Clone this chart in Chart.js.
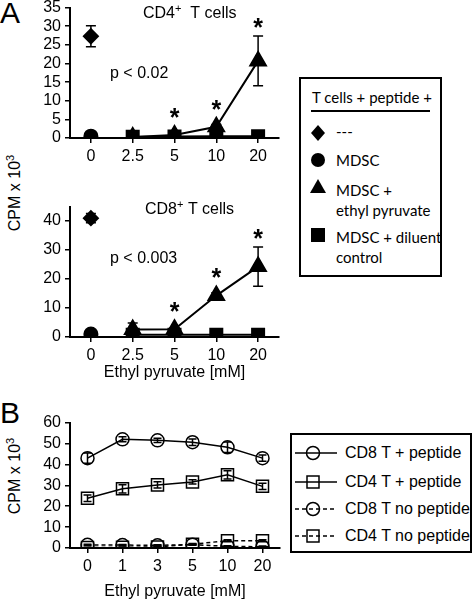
<!DOCTYPE html>
<html><head><meta charset="utf-8">
<script src="https://cdn.jsdelivr.net/npm/chart.js@4/dist/chart.umd.min.js"></script>
<style>
body{margin:0;width:474px;height:600px;position:relative;background:#fff;overflow:hidden;font-family:"Liberation Sans",Arial,sans-serif;color:#000}
.abs{position:absolute;white-space:nowrap}
canvas{position:absolute}
.lgA{font-family:Lato,"Open Sans",sans-serif;font-size:15px;position:absolute;white-space:nowrap;line-height:20px}
.lgB{font-size:16px;position:absolute;white-space:nowrap;line-height:18px}
.ytitle{position:absolute;width:140px;height:20px;line-height:20px;text-align:center;font-size:16px;transform:rotate(-90deg);white-space:nowrap}
</style></head><body>
<div class="abs" style="left:0;top:-4px;font-size:30px">A</div>
<div class="abs" style="left:0;top:396px;font-size:30px">B</div>
<canvas id="c1" width="260" height="176" style="left:30px;top:-6px"></canvas>
<canvas id="c2" width="260" height="200" style="left:30px;top:193px"></canvas>
<canvas id="c3" width="260" height="191" style="left:30px;top:409px"></canvas>
<div class="ytitle" style="left:-55px;top:183px">CPM x 10<span style="font-size:11px;position:relative;top:-6px">3</span></div>
<div class="ytitle" style="left:-55px;top:466px">CPM x 10<span style="font-size:11px;position:relative;top:-6px">3</span></div>

<div class="abs" style="left:299px;top:77px;width:139px;height:196px;border:2px solid #000"></div>
<div class="lgA" style="left:312px;top:87px">T cells + peptide +</div>
<div class="abs" style="left:311px;top:110px;width:119px;height:2px;background:#000"></div>
<svg class="abs" style="left:299px;top:77px" width="40" height="200">
 <polygon points="19,48 26,56 19,64 12,56" fill="#000"/>
 <circle cx="19" cy="83" r="7" fill="#000"/>
 <polygon points="19,102 27,116 11,116" fill="#000"/>
 <rect x="12" y="151" width="14" height="14" fill="#000"/>
</svg>
<div class="lgA" style="left:336px;top:121px">---</div>
<div class="lgA" style="left:336px;top:150px">MDSC</div>
<div class="lgA" style="left:336px;top:180px">MDSC +</div>
<div class="lgA" style="left:336px;top:200px">ethyl pyruvate</div>
<div class="lgA" style="left:336px;top:227px">MDSC + diluent</div>
<div class="lgA" style="left:336px;top:247px">control</div>

<div class="abs" style="left:290px;top:433px;width:178px;height:116px;border:2px solid #000"></div>
<svg class="abs" style="left:290px;top:433px" width="60" height="120">
 <g stroke="#000" stroke-width="1.5" fill="none">
  <line x1="5" y1="20" x2="47" y2="20"/><circle cx="23" cy="20" r="6.5"/>
  <line x1="5" y1="49" x2="47" y2="49"/><rect x="17" y="43" width="12" height="12"/>
  <line x1="5" y1="76" x2="47" y2="76" stroke-dasharray="4,3"/><circle cx="23" cy="76" r="6.5"/>
  <line x1="5" y1="103" x2="47" y2="103" stroke-dasharray="4,3"/><rect x="17" y="97" width="12" height="12"/>
 </g>
</svg>
<div class="lgB" style="left:345px;top:444px">CD8 T + peptide</div>
<div class="lgB" style="left:345px;top:473px">CD4 T + peptide</div>
<div class="lgB" style="left:345px;top:500px">CD8 T no peptide</div>
<div class="lgB" style="left:345px;top:527px">CD4 T no peptide</div>

<script>
// ---------- data ----------
const doseA = ['0', '2.5', '5', '10', '20'];
const yTicksCD4 = [0, 5, 10, 15, 20, 25, 30, 35];
const cd4Alone    = [27.3, null, null, null, null];
const cd4AloneErr = [2.8, null, null, null, null];
const cd4Mdsc     = [0.5, null, null, null, null];
const cd4MdscErr  = [0.3, null, null, null, null];
const cd4Ep       = [null, 0.3, 0.8, 3.0, 20.7];
const cd4EpErr    = [null, 0.3, 0.4, 0.6, 6.7];
const cd4Dil      = [null, 0.3, 0.4, 0.5, 0.5];
const cd4DilErr   = [null, 0.2, 0.2, 0.2, 0.2];
const cd4Sig      = ['', '', '*', '*', '*'];

const yTicksCD8 = [0, 10, 20, 30, 40];
const cd8Alone    = [41.0, null, null, null, null];
const cd8AloneErr = [1.6, null, null, null, null];
const cd8Mdsc     = [1.0, null, null, null, null];
const cd8MdscErr  = [0.3, null, null, null, null];
const cd8Ep       = [null, 2.6, 2.7, 14.3, 24.3];
const cd8EpErr    = [null, 2.2, 0.5, 1.0, 6.8];
const cd8Dil      = [null, 0.8, 0.8, 0.8, 0.8];
const cd8DilErr   = [null, 0.3, 0.3, 0.3, 0.3];
const cd8Sig      = ['', '', '*', '*', '*'];

const doseB = ['0', '1', '3', '5', '10', '20'];
const yTicksB = [0, 10, 20, 30, 40, 50, 60];
const cd8Pep       = [43.0, 52.0, 51.5, 50.6, 48.2, 43.0];
const cd8PepErr    = [2.5, 1.2, 1.0, 1.5, 2.5, 1.5];
const cd4Pep       = [23.8, 28.3, 30.2, 31.6, 35.0, 29.5];
const cd4PepErr    = [1.5, 2.0, 1.5, 1.0, 2.0, 1.5];
const cd8NoPep     = [1.5, 1.4, 1.3, 1.6, 0.8, 0.6];
const cd8NoPepErr  = [0.3, 0.3, 0.3, 0.3, 0.3, 0.3];
const cd4NoPep     = [0.2, 0.3, 0.5, 1.8, 3.5, 3.5];
const cd4NoPepErr  = [0.2, 0.2, 0.2, 0.3, 0.5, 0.5];

// ---------- plugins ----------
const FONT = '"Liberation Sans", Arial, sans-serif';
const errPlugin = {
  id: 'err',
  beforeDatasetsDraw(chart) { drawErr(chart, true); },
  afterDatasetsDraw(chart) { drawErr(chart, false); }
};
function drawErr(chart, before) {
  const ctx = chart.ctx, ys = chart.scales.y;
  chart.data.datasets.forEach((ds, i) => {
    if (!ds.errors || !!ds.errOnTop === before) return;
    const meta = chart.getDatasetMeta(i);
    meta.data.forEach((pt, j) => {
      const v = ds.data[j], e = ds.errors[j];
      if (v == null || e == null) return;
      const yt = ys.getPixelForValue(v + e), yb = ys.getPixelForValue(Math.max(ys.min, v - e));
      const cap = ds.cap || 5;
      ctx.save(); ctx.strokeStyle = '#000'; ctx.lineWidth = 1.5;
      ctx.beginPath();
      ctx.moveTo(pt.x, yt); ctx.lineTo(pt.x, yb);
      ctx.moveTo(pt.x - cap, yt); ctx.lineTo(pt.x + cap, yt);
      ctx.moveTo(pt.x - cap, yb); ctx.lineTo(pt.x + cap, yb);
      ctx.stroke(); ctx.restore();
    });
  });
}
const annotPlugin = {
  id: 'annot',
  afterDatasetsDraw(chart, args, o) {
    const ctx = chart.ctx, a = chart.chartArea, ys = chart.scales.y, xs = chart.scales.x;
    ctx.save(); ctx.fillStyle = '#000';
    ctx.textBaseline = 'middle';
    if (o.title) {
      ctx.font = '16px ' + FONT;
      let x = a.left + o.titleDx, y = a.top + o.titleDy;
      ctx.fillText(o.title[0], x, y); x += ctx.measureText(o.title[0]).width;
      ctx.font = '11px ' + FONT; ctx.fillText('+', x, y - 5); x += ctx.measureText('+').width;
      ctx.font = '16px ' + FONT; ctx.fillText(o.title[1], x, y);
    }
    if (o.p) {
      ctx.font = '16px ' + FONT;
      ctx.fillText(o.p, a.left + o.pDx, a.top + o.pDy);
    }
    if (o.sig) {
      ctx.font = 'bold 25px ' + FONT; ctx.textAlign = 'center';
      o.sig.forEach((s, j) => {
        if (!s) return;
        let top = Infinity;
        chart.data.datasets.forEach(ds => {
          const v = ds.data[j]; if (v == null) return;
          const e = ds.errors && ds.errors[j] != null ? ds.errors[j] : 0;
          top = Math.min(top, ys.getPixelForValue(v + e), ys.getPixelForValue(v) - 9);
        });
        ctx.fillText(s, xs.getPixelForValue(j), top - 7);
      });
    }
    if (o.xTitle) {
      ctx.font = '16px ' + FONT; ctx.textAlign = 'center';
      ctx.fillText(o.xTitle, (a.left + a.right) / 2, a.bottom + o.xTitleDy);
    }
    ctx.restore();
  }
};

function axisOpts(extra) {
  return Object.assign({
    grid: { display: true, drawOnChartArea: false, drawTicks: true, tickLength: 5, color: '#000', lineWidth: 1.5 },
    border: { display: true, color: '#000', width: 2 },
    ticks: { color: '#000', font: { family: FONT, size: 16 }, padding: 4, maxRotation: 0, autoSkip: false }
  }, extra);
}
function makeChart(id, labels, datasets, yMax, yTicks, xH, annot) {
  return new Chart(document.getElementById(id), {
    type: 'line',
    data: { labels, datasets },
    options: {
      responsive: false, animation: false, devicePixelRatio: 1,
      layout: { padding: { top: 12, right: 10, left: 0, bottom: 0 } },
      plugins: { legend: { display: false }, tooltip: { enabled: false }, annot },
      scales: {
        x: axisOpts({ type: 'category', offset: true, afterFit(s) { s.height = xH; } }),
        y: axisOpts({ min: 0, max: yMax,
          ticks: { color: '#000', font: { family: FONT, size: 16 }, padding: 4, autoSkip: false },
          afterBuildTicks(s) { s.ticks = yTicks.map(v => ({ value: v })); },
          afterFit(s) { s.width = 40; } })
      }
    },
    plugins: [errPlugin, annotPlugin]
  });
}
function dsA(data, errors, style, r, showLine) {
  return { data, errors, pointStyle: style, pointRadius: r, pointBackgroundColor: '#000', pointBorderColor: '#000',
    borderColor: '#000', borderWidth: 2, showLine, spanGaps: false, cap: 5 };
}
function dsB(data, errors, style, r, dashed) {
  return { data, errors, pointStyle: style, pointRadius: r, pointBackgroundColor: 'rgba(0,0,0,0)', pointBorderColor: '#000',
    pointBorderWidth: 1.5, borderColor: '#000', borderWidth: 1.5, borderDash: dashed ? [4, 3] : [], errOnTop: true, cap: 4 };
}

makeChart('c1', doseA, [
  dsA(cd4Dil, cd4DilErr, 'rect', 8.5, true),
  dsA(cd4Ep, cd4EpErr, 'triangle', 9, true),
  dsA(cd4Mdsc, cd4MdscErr, 'circle', 6.5, false),
  dsA(cd4Alone, cd4AloneErr, 'rectRot', 7, false)
], 35, yTicksCD4, 32, { title: ['CD4', '  T cells'], titleDx: 73, titleDy: 6, p: 'p < 0.02', pDx: 40, pDy: 66, sig: cd4Sig });

makeChart('c2', doseA, [
  dsA(cd8Dil, cd8DilErr, 'rect', 8.5, true),
  dsA(cd8Ep, cd8EpErr, 'triangle', 9, true),
  dsA(cd8Mdsc, cd8MdscErr, 'circle', 6.5, false),
  dsA(cd8Alone, cd8AloneErr, 'rectRot', 7, false)
], 45, yTicksCD8, 56, { title: ['CD8', ' T cells'], titleDx: 75, titleDy: 3, p: 'p < 0.003', pDx: 40, pDy: 52, sig: cd8Sig, xTitle: 'Ethyl pyruvate [mM]', xTitleDy: 36 });

makeChart('c3', doseB, [
  dsB(cd8Pep, cd8PepErr, 'circle', 6.5, false),
  dsB(cd4Pep, cd4PepErr, 'rect', 8.5, false),
  dsB(cd8NoPep, cd8NoPepErr, 'circle', 6.5, true),
  dsB(cd4NoPep, cd4NoPepErr, 'rect', 8.5, true)
], 60, yTicksB, 52, { xTitle: 'Ethyl pyruvate [mM]', xTitleDy: 44 });
</script>
</body></html>
